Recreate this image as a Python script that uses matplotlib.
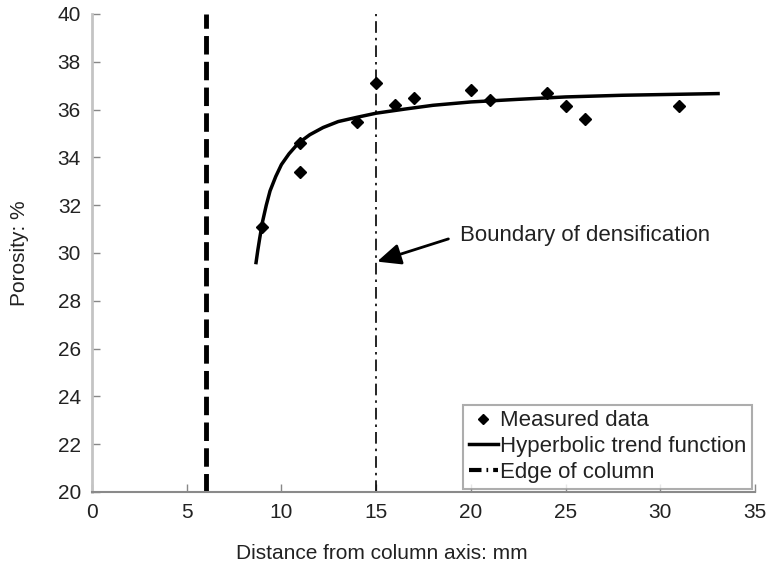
import matplotlib
matplotlib.use("Agg")
import matplotlib.pyplot as plt
from matplotlib.lines import Line2D

dist_mm = [9, 11, 11, 14, 15, 16, 17, 20, 21, 24, 25, 26, 31]
porosity = [31.1, 34.6, 33.4, 35.5, 37.1, 36.2, 36.5, 36.8, 36.4, 36.7, 36.15, 35.6, 36.15]

# hyperbolic trend curve
trend_x = [8.66, 8.75, 8.85, 9.0, 9.2, 9.4, 9.7, 10.0, 10.4, 10.9, 11.5,
           12.2, 13.0, 14.0, 15.0, 16.5, 18.0, 20.0, 22.5, 25.0, 28.0, 33.05]
trend_y = [29.6, 30.1, 30.6, 31.3, 32.0, 32.6, 33.2, 33.7, 34.15, 34.6, 34.95,
           35.25, 35.5, 35.68, 35.85, 36.02, 36.18, 36.32, 36.43, 36.53, 36.6, 36.67]

edge_x = 6
boundary_x = 15

xticks = [0, 5, 10, 15, 20, 25, 30, 35]
yticks = [20, 22, 24, 26, 28, 30, 32, 34, 36, 38, 40]

plt.rcParams['font.family'] = ['Liberation Sans', 'DejaVu Sans']
fig = plt.figure(figsize=(7.69, 5.69), dpi=100)
ax = fig.add_axes([92/769, 1-492/569, 663/769, 478/569])

ax.axvline(edge_x, color='black', lw=3.5, dashes=(3.8, 1.5))
ax.axvline(boundary_x, color='black', lw=1.2, dashes=(7, 3, 1.5, 3))
ax.plot(trend_x, trend_y, '-', color='black', lw=2.5)
ax.plot(dist_mm, porosity, 'D', color='black', ms=6)

ax.annotate('Boundary of densification', xy=(15.05, 29.64), xytext=(19.45, 30.75),
            fontsize=16, color='#222222', va='center', ha='left',
            arrowprops=dict(arrowstyle='-|>,head_length=0.9,head_width=0.4',
                            color='black', lw=2, shrinkA=7, shrinkB=0,
                            relpos=(0, 0.5)))

ax.set_xlim(0, 35)
ax.set_ylim(20, 40)
ax.set_xticks(xticks)
ax.set_yticks(yticks)
ax.tick_params(direction='in', length=6, width=1, color='#888888',
               labelsize=15, labelcolor='#222222', pad=8)

for s in ['top', 'right']:
    ax.spines[s].set_visible(False)
ax.spines['left'].set_color('#c4c4c4')
ax.spines['left'].set_linewidth(2)
ax.spines['bottom'].set_color('#8a8a8a')
ax.spines['bottom'].set_linewidth(1.5)

ax.set_xlabel('Distance from column axis: mm', fontsize=15, color='#222222')
ax.xaxis.set_label_coords(0.437, -0.108)
ax.set_ylabel('Porosity: %', fontsize=15, color='#222222')
ax.yaxis.set_label_coords(-0.095, 0.5)

handles = [
    Line2D([], [], marker='D', color='black', ls='none', ms=5),
    Line2D([], [], color='black', lw=2.5),
    Line2D([], [], color='black', lw=3, dashes=(3, 1.2, 0.4, 1.2)),
]
labels = ['Measured data', 'Hyperbolic trend function', 'Edge of column']
leg = ax.legend(handles, labels, loc='lower right', bbox_to_anchor=(1.0, 0.0),
                fontsize=16, frameon=True, fancybox=False, shadow=False,
                handlelength=1.3, handletextpad=0.1, borderpad=0.25,
                labelspacing=0.22, borderaxespad=0.15)
leg.get_frame().set_edgecolor('#999999')
leg.get_frame().set_linewidth(1.5)
for t in leg.get_texts():
    t.set_color('#222222')

fig.savefig('out.png', dpi=100)
